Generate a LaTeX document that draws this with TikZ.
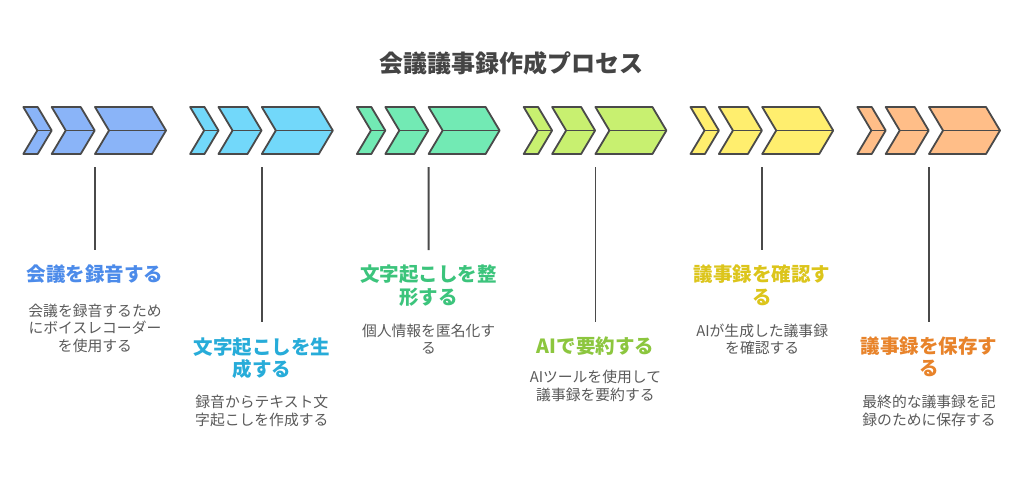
\documentclass[tikz,border=0pt]{standalone}
\usepackage{fontspec}
\setmainfont{Noto Sans CJK JP}
\newfontfamily\jpfont{Noto Sans CJK JP}
\definecolor{strokegray}{HTML}{4A4A4A}
\definecolor{descgray}{HTML}{5A5A5A}
\definecolor{headgray}{HTML}{444444}
\definecolor{fblue}{HTML}{8AB4F8}
\definecolor{tblue}{HTML}{4C8BEA}
\definecolor{fcyan}{HTML}{72D8FA}
\definecolor{tcyan}{HTML}{27ACD9}
\definecolor{fgreen}{HTML}{72EAB4}
\definecolor{tgreen}{HTML}{3CC47C}
\definecolor{flime}{HTML}{C8F070}
\definecolor{tlime}{HTML}{8CC63E}
\definecolor{fyellow}{HTML}{FFEE6E}
\definecolor{tyellow}{HTML}{DCC51B}
\definecolor{forange}{HTML}{FFBE88}
\definecolor{torange}{HTML}{E8832A}
\tikzset{
  chev/.style={draw=strokegray, line width=1.8pt, line join=round},
  chevline/.style={draw=strokegray, line width=1.8pt},
  stem/.style={draw=strokegray, line width=1.8pt},
  steptitle/.style={font=\jpfont\bfseries\fontsize{19.5}{22.5}\selectfont, align=center, inner sep=0pt, anchor=north},
  stepdesc/.style={font=\jpfont\fontsize{14.8}{17.6}\selectfont, text=descgray, align=center, inner sep=0pt, anchor=north},
  headtitle/.style={font=\jpfont\bfseries\fontsize{24}{28}\selectfont, text=headgray, inner sep=0pt}
}
\newcommand{\chevgroup}[3]{%
  \foreach \xl/\w in {0/14.4, 28.4/29, 71.7/57} {
    \draw[chev, fill=#2] ({#1+\xl},107) -- ++(\w,0) -- ++(14,23.5) -- ++(-14,23.5) -- ++(-\w,0) -- ++(14,-23.5) -- cycle;
    \draw[chevline] ({#1+\xl+14},130.5) -- ++(\w,0);
  }
  \coordinate (#3) at ({#1+71.7},167);
}
\begin{document}
\begin{tikzpicture}[x=1pt,y=-1pt]
\useasboundingbox (0,0) rectangle (1024,476);
\fill[white] (0,0) rectangle (1024,476);

\node[headtitle] (head) at (511,63) {会議議事録作成プロセス};

\chevgroup{23.3}{fblue}{c1}
\chevgroup{190.1}{fcyan}{c2}
\chevgroup{356.9}{fgreen}{c3}
\chevgroup{523.7}{flime}{c4}
\chevgroup{690.5}{fyellow}{c5}
\chevgroup{857.3}{forange}{c6}

\coordinate (e1) at (95,250);
\coordinate (e2) at (261.8,322);
\coordinate (e3) at (428.6,250);
\coordinate (e4) at (595.4,322);
\coordinate (e5) at (762.2,250);
\coordinate (e6) at (929,322);

\draw[stem] (c1) -- (e1);
\draw[stem] (c2) -- (e2);
\draw[stem] (c3) -- (e3);
\draw[stem] (c4) -- (e4);
\draw[stem] (c5) -- (e5);
\draw[stem] (c6) -- (e6);

\node[steptitle, text=tblue] (t1) at (95,264.8) {会議を録音する};
\node[stepdesc] (d1) at (95,303.5) {会議を録音するため\\にボイスレコーダー\\を使用する};

\node[steptitle, text=tcyan] (t2) at (261.8,337.5) {文字起こしを生\\成する};
\node[stepdesc] (d2) at (261.8,395.2) {録音からテキスト文\\字起こしを作成する};

\node[steptitle, text=tgreen] (t3) at (428.6,265) {文字起こしを整\\形する};
\node[stepdesc] (d3) at (428.6,323.5) {個人情報を匿名化す\\る};

\node[steptitle, text=tlime] (t4) at (595.4,336.5) {AIで要約する};
\node[stepdesc] (d4) at (595.4,370.2) {AIツールを使用して\\議事録を要約する};

\node[steptitle, text=tyellow] (t5) at (762.2,264.8) {議事録を確認す\\る};
\node[stepdesc] (d5) at (762.2,323.5) {AIが生成した議事録\\を確認する};

\node[steptitle, text=torange] (t6) at (929,336.5) {議事録を保存す\\る};
\node[stepdesc] (d6) at (929,395.2) {最終的な議事録を記\\録のために保存する};
\end{tikzpicture}
\end{document}
